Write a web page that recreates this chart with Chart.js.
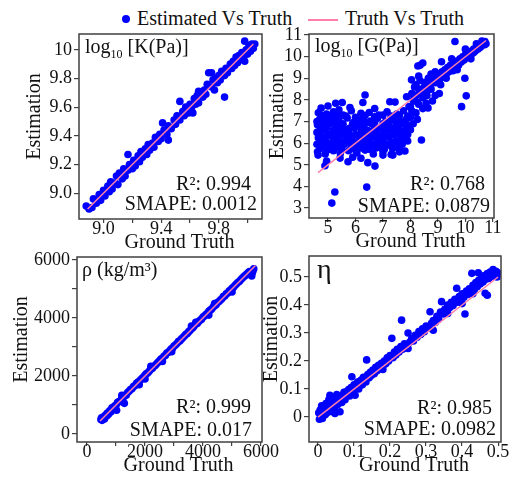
<!DOCTYPE html>
<html>
<head>
<meta charset="utf-8">
<script src="https://cdn.jsdelivr.net/npm/chart.js@4.4.1/dist/chart.umd.min.js"></script>
<style>
  html, body { margin: 0; padding: 0; background: #fff; overflow: hidden; }
  body { width: 511px; height: 479px; position: relative; font-family: 'Liberation Serif', serif; }
  .panel { position: absolute; }
  .lbl { position: absolute; top: 8px; font-size: 20px; line-height: 20px; color: #111; white-space: nowrap; }
  .dot { position: absolute; left: 122px; top: 15px; width: 8px; height: 8px; border-radius: 50%; background: #0000ff; }
  .seg { position: absolute; left: 308px; top: 19px; width: 30px; height: 1.5px; background: #ff7fa8; }
</style>
</head>
<body>
<div class="dot"></div>
<span class="lbl" style="left:137px">Estimated Vs Truth</span>
<div class="seg"></div>
<span class="lbl" style="left:345px">Truth Vs Truth</span>

<div class="panel" style="left:23px;top:20px;width:251px;height:234px"><canvas id="kChart"></canvas></div>
<div class="panel" style="left:266px;top:20px;width:240px;height:233px"><canvas id="gChart"></canvas></div>
<div class="panel" style="left:10px;top:243px;width:280px;height:234px"><canvas id="rhoChart"></canvas></div>
<div class="panel" style="left:260px;top:242px;width:253px;height:235px"><canvas id="etaChart"></canvas></div>

<script>
// [ground truth, estimation]
const kPoints = [[8.88,8.91],[8.90,8.89],[8.92,8.90],[8.93,8.96],[8.95,8.93],[8.97,8.99],[8.98,8.95],[9.00,9.02],[9.01,8.98],[9.03,9.05],
  [9.04,9.01],[9.05,9.08],[9.06,9.03],[9.08,9.07],[9.09,9.12],[9.10,9.06],[9.11,9.14],[9.13,9.10],[9.14,9.17],[9.15,9.12],
  [9.17,9.27],[9.17,9.16],[9.18,9.20],[9.20,9.17],[9.21,9.23],[9.22,9.19],[9.24,9.26],[9.25,9.22],[9.26,9.29],[9.27,9.25],
  [9.29,9.31],[9.30,9.27],[9.31,9.34],[9.32,9.30],[9.34,9.35],[9.35,9.32],[9.36,9.39],[9.38,9.36],[9.39,9.41],[9.40,9.38],
  [9.41,9.49],[9.42,9.44],[9.44,9.41],[9.45,9.47],[9.45,9.37],[9.47,9.45],[9.49,9.51],[9.50,9.48],[9.51,9.54],[9.53,9.64],
  [9.53,9.51],[9.55,9.57],[9.56,9.54],[9.57,9.60],[9.59,9.56],[9.60,9.62],[9.61,9.59],[9.63,9.66],[9.64,9.62],[9.65,9.68],
  [9.66,9.63],[9.68,9.69],[9.69,9.67],[9.70,9.72],[9.71,9.69],[9.72,9.76],[9.73,9.84],[9.75,9.84],[9.75,9.74],[9.76,9.79],
  [9.77,9.72],[9.78,9.80],[9.79,9.77],[9.80,9.82],[9.81,9.79],[9.82,9.85],[9.84,9.67],[9.84,9.82],[9.85,9.87],[9.86,9.84],
  [9.88,9.90],[9.89,9.87],[9.90,9.92],[9.91,9.89],[9.92,9.95],[9.93,9.91],[9.94,9.96],[9.95,9.93],[9.96,9.98],[9.97,9.94],
  [9.98,10.06],[9.98,9.92],[9.99,10.00],[10.00,9.97],[10.01,10.03],[10.02,9.99],[10.03,10.04],[10.04,10.01],[10.05,10.04],
  [9.66,9.71],[9.62,9.56]];

const gPoints = [
  [4.65,7.41],[4.95,7.35],[5.2,7.45],[5.55,7.3],[5.85,7.5],[6.2,7.38],[6.5,7.42],[6.85,7.3],[7.15,7.45],[7.5,7.35],[7.75,7.5],
  [4.8,7.27],[5.05,7.22],[5.35,7.3],[5.65,7.25],[6.0,7.2],[6.35,7.28],[6.7,7.22],[7.0,7.3],[7.3,7.25],[7.6,7.28],[7.85,7.1],
  [4.7,7.1],[4.9,7.0],[5.15,7.15],[5.4,7.05],[5.7,7.17],[5.95,6.98],[6.25,7.12],[6.55,7.02],[6.8,7.15],[7.1,7.0],[7.35,7.2],[7.6,7.05],[7.9,7.25],
  [4.6,7.0],[4.82,6.92],[5.25,6.95],[5.5,6.9],[5.9,6.92],[6.15,7.0],[6.4,6.95],[6.7,6.98],[7.0,6.9],[7.25,7.02],[7.5,6.95],[7.8,7.0],
  [4.62,6.85],[4.85,6.75],[5.05,6.9],[5.3,6.72],[5.55,6.88],[5.8,6.7],[6.05,6.85],[6.3,6.75],[6.6,6.9],[6.9,6.7],[7.2,6.85],[7.45,6.72],[7.7,6.9],[7.95,6.8],
  [4.72,6.65],[4.95,6.7],[5.2,6.62],[5.45,6.68],[5.65,6.62],[5.95,6.7],[6.2,6.65],[6.45,6.6],[6.7,6.68],[7.1,6.62],[7.35,6.7],[7.6,6.62],[7.85,6.68],
  [4.6,6.5],[4.8,6.6],[5.0,6.42],[5.25,6.58],[5.5,6.45],[5.75,6.55],[6.0,6.4],[6.25,6.6],[6.5,6.45],[6.75,6.55],[7.0,6.4],[7.3,6.6],[7.55,6.45],[7.8,6.55],[8.0,6.62],
  [4.7,6.35],[4.92,6.3],[5.12,6.38],[5.35,6.32],[5.6,6.38],[5.85,6.32],[6.1,6.35],[6.35,6.38],[6.6,6.32],[6.85,6.38],[7.15,6.32],[7.4,6.38],[7.65,6.32],[7.9,6.4],
  [4.65,6.25],[4.9,6.12],[5.15,6.3],[5.4,6.15],[5.65,6.28],[5.9,6.1],[6.15,6.25],[6.4,6.12],[6.7,6.3],[6.95,6.15],[7.2,6.28],[7.5,6.1],[7.75,6.25],
  [4.75,6.05],[5.0,6.0],[5.25,6.08],[5.5,6.02],[5.78,6.05],[6.0,6.02],[6.25,6.08],[6.55,6.02],[6.8,6.05],[7.05,6.0],[7.35,6.05],[7.62,6.02],[7.9,6.1],
  [4.6,5.95],[4.85,5.82],[5.1,5.98],[5.35,5.85],[5.6,5.95],[5.85,5.8],[6.1,5.97],[6.35,5.85],[6.6,5.95],[6.9,5.8],[7.2,5.92],[7.45,5.85],[7.7,5.95],
  [4.72,5.75],[5.0,5.7],[5.25,5.78],[5.5,5.72],[5.95,5.73],[6.2,5.78],[6.5,5.72],[6.75,5.78],[7.05,5.72],[7.35,5.75],[7.6,5.72],
  [4.62,5.6],[4.9,5.5],[5.2,5.65],[5.45,5.52],[5.75,5.65],[6.05,5.55],[6.35,5.68],[6.65,5.5],[7.0,5.62],[7.3,5.48],[7.6,5.6],[7.8,5.64],
  [4.64,5.45],[4.95,5.17],[5.44,5.31],[5.73,5.14],[6.45,5.10],[6.71,4.94],[7.0,5.45],[7.36,5.45],[4.89,4.96],[5.9,5.35],[6.2,5.3],
  [5.14,3.23],[5.25,3.74],[6.41,3.97],
  [6.35,8.23],[6.27,7.88],[5.52,7.88],[5.28,7.85],[5.0,7.72],[5.4,7.55],[7.25,7.92],[7.44,7.9],[5.8,7.65],[6.7,7.6],[4.75,7.62],
  [7.86,8.15],[8.13,7.95],[8.05,7.5],[7.95,7.7],[8.0,7.2],[8.2,7.4],[8.3,7.8],[8.4,6.15],[8.1,6.9],[8.25,7.1],[8.45,7.6],
  [8.57,7.84],[8.64,7.63],[8.8,7.95],[8.9,8.2],[9.05,8.3],[9.86,7.69],[10.03,8.19],[9.98,9.0],[9.62,10.7],[8.27,9.57],
  [8.45,9.71],[8.35,9.6],[8.04,8.93],[8.71,8.93],[9.13,9.77],[8.2,8.7],[8.3,9.1],
  [8.0,7.7],[8.05,8.3],[8.1,8.0],[8.15,8.6],[8.2,8.2],[8.25,7.9],[8.3,8.5],[8.35,8.9],[8.4,8.3],[8.45,8.1],[8.5,8.6],
  [8.55,8.8],[8.6,8.4],[8.65,9.0],[8.7,8.7],[8.75,8.5],[8.8,8.9],[8.85,9.1],[8.9,8.8],[8.95,9.0],[9.0,9.2],[9.05,8.9],
  [9.1,9.1],[9.15,9.3],[9.2,9.1],[9.25,9.4],[9.3,9.2],[9.35,9.5],[9.4,9.3],[9.45,9.6],[9.5,9.5],[9.55,9.35],[9.6,9.7],
  [9.65,9.6],[9.7,9.8],[9.75,9.6],[9.8,9.9],[9.85,9.75],[9.9,10.0],[9.95,9.85],[10.0,10.1],[10.05,9.95],[10.1,10.15],
  [10.15,10.05],[10.2,10.25],[10.25,10.15],[10.3,10.35],[10.35,10.25],[10.4,10.45],[10.45,10.35],[10.5,10.55],[10.55,10.45],
  [10.6,10.6],[10.65,10.55],[10.7,10.65],[10.75,10.6],[10.7,10.55],[9.3,9.0],[9.5,9.9],[9.7,9.4],[10.0,10.35],[10.2,9.9],
  [10.4,10.6],[9.1,8.7],[8.9,9.3],[8.6,8.2],[8.75,9.2],[10.71,10.7],[10.6,10.72],[10.5,10.4],[10.3,10.2]];

const rhoPoints = [[480,500],[500,560],[520,470],[550,540],[580,600],[600,520],[640,650],[680,620],[700,720],[740,680],
  [780,800],[820,760],[860,900],[900,850],[950,960],[1000,990],[1020,820],[1050,1080],[1100,1120],[1150,1130],
  [1200,1240],[1287,1057],[1250,1260],[1300,1330],[1350,1340],[1400,1430],[1450,1470],[1500,1530],[1550,1560],[1600,1640],
  [1650,1660],[1700,1740],[1750,1780],[1800,1820],[1850,1870],[1900,1920],[1950,1960],[2000,1900],[2000,2030],[2050,2080],
  [2100,2110],[2150,2170],[2200,2230],[2250,2260],[2300,2330],[2350,2360],[2400,2420],[2450,2470],[2500,2520],[2550,2580],
  [2600,2610],[2650,2680],[2700,2710],[2750,2790],[2800,2810],[2850,2870],[2920,2840],[2900,2930],[2950,2960],[3000,3030],
  [3050,3070],[3100,3120],[3150,3190],[3200,3210],[3250,3270],[3300,3320],[3350,3370],[3400,3430],[3450,3460],[3500,3520],
  [3550,3570],[3600,3630],[3650,3660],[3700,3730],[3750,3850],[3800,3810],[3850,3880],[3900,3920],[3950,3960],[4000,4030],
  [4050,4070],[4100,4120],[4150,4160],[4200,4230],[4250,4270],[4300,4310],[4350,4380],[4400,4420],[4450,4460],[4500,4530],
  [4550,4570],[4600,4620],[4650,4660],[4700,4740],[4750,4760],[4800,4830],[4850,4860],[4900,4930],[4950,4960],[5000,5020],
  [5050,5060],[5100,5120],[5150,5170],[5200,5220],[5250,5260],[5300,5320],[5350,5370],[5400,5420],[5450,5460],[5500,5510],
  [5550,5560],[5600,5600],[5650,5500],[5700,5560],[5720,5620],[5680,5450],[5750,5700],
  [1200,1330],[2200,2330],[3600,3720],[4400,4500],[1800,1700],[2600,2500],[4200,4100],[5000,4900]];

const etaPoints = [[0.002,0.015],[0.004,-0.008],[0.006,0.025],[0.008,0.003],[0.010,0.040],[0.012,-0.005],[0.015,0.020],
  [0.018,0.030],[0.020,0.008],[0.022,0.048],[0.025,0.015],[0.028,0.035],[0.030,0.062],[0.033,0.078],[0.035,0.020],
  [0.038,0.045],[0.042,0.058],[0.045,0.030],[0.047,0.013],[0.050,0.068],[0.052,0.080],[0.055,0.045],[0.058,0.060],
  [0.061,0.019],[0.063,0.072],[0.066,0.052],[0.070,0.078],[0.072,0.088],[0.075,0.062],[0.078,0.090],[0.082,0.080],
  [0.085,0.098],[0.088,0.075],[0.092,0.105],[0.094,0.144],[0.097,0.095],[0.100,0.115],[0.103,0.078],[0.106,0.108],
  [0.110,0.125],[0.113,0.100],[0.116,0.128],[0.120,0.132],[0.123,0.115],[0.126,0.142],[0.130,0.135],[0.133,0.125],
  [0.135,0.204],[0.138,0.152],[0.142,0.140],[0.145,0.160],[0.148,0.148],[0.152,0.168],[0.156,0.155],[0.160,0.178],
  [0.164,0.165],[0.168,0.185],[0.172,0.172],[0.176,0.192],[0.180,0.182],[0.184,0.200],[0.188,0.190],[0.192,0.212],
  [0.196,0.200],[0.200,0.220],[0.205,0.281],[0.208,0.212],[0.212,0.232],[0.216,0.222],[0.220,0.242],[0.225,0.232],
  [0.230,0.252],[0.232,0.346],[0.235,0.242],[0.240,0.262],[0.245,0.252],[0.250,0.300],[0.255,0.268],[0.260,0.280],
  [0.265,0.272],[0.270,0.292],[0.275,0.285],[0.280,0.305],[0.285,0.295],[0.290,0.315],[0.295,0.305],[0.300,0.325],
  [0.305,0.318],[0.311,0.376],[0.315,0.335],[0.320,0.345],[0.325,0.338],[0.330,0.360],[0.335,0.350],[0.340,0.375],
  [0.343,0.412],[0.348,0.368],[0.352,0.385],[0.356,0.375],[0.360,0.400],[0.365,0.390],[0.370,0.410],[0.375,0.398],
  [0.380,0.420],[0.385,0.460],[0.388,0.410],[0.392,0.430],[0.396,0.418],[0.400,0.440],[0.405,0.428],[0.408,0.368],
  [0.412,0.450],[0.416,0.438],[0.420,0.458],[0.424,0.445],[0.427,0.513],[0.430,0.470],[0.434,0.455],[0.438,0.480],
  [0.442,0.465],[0.446,0.488],[0.450,0.475],[0.454,0.498],[0.458,0.482],[0.462,0.505],[0.464,0.442],[0.466,0.492],
  [0.470,0.435],[0.470,0.512],[0.474,0.495],[0.478,0.518],[0.482,0.502],[0.486,0.527],[0.490,0.508],[0.494,0.520],
  [0.497,0.500],[0.499,0.515],[0.445,0.515],[0.430,0.440],[0.320,0.310],[0.250,0.245],[0.180,0.170],[0.360,0.370],
  [0.400,0.405]];

// identity line ends (Truth Vs Truth)
const kSpan = [8.89, 10.04];
const gSpan = [4.64, 10.75];
const rhoSpan = [450, 5800];
const etaSpan = [0, 0.5];

const r2Values = ['0.994', '0.768', '0.999', '0.985'];
const smapeValues = ['0.0012', '0.0879', '0.017', '0.0982'];

// ticks
const kTicks = [9.0, 9.2, 9.4, 9.6, 9.8, 10.0];
const kLabelsX = ['9.0', '', '9.4', '', '9.8', ''];
const kLabelsY = ['9.0', '9.2', '9.4', '9.6', '9.8', '10'];
const gTicksX = [5, 6, 7, 8, 9, 10, 11];
const gTicksY = [3, 4, 5, 6, 7, 8, 9, 10, 11];
const rhoTicks = [0, 1000, 2000, 3000, 4000, 5000, 6000];
const rhoLabels = ['0', '', '2000', '', '4000', '', '6000'];
const etaTicks = [0, 0.1, 0.2, 0.3, 0.4, 0.5];
const etaLabels = ['0', '0.1', '0.2', '0.3', '0.4', '0.5'];

const SERIF = "'Liberation Serif', 'Times New Roman', serif";
const BLUE = '#0000ff';
const PINK = '#ff7fa8';
const INK = '#111111';
const FRAME = '#404040';

// frame box, axis titles and in-plot texts, one plugin instance per panel
function panelDecor(deco) {
  return {
    id: 'panelDecor',
    afterDatasetsDraw(chart) {
      const { ctx, chartArea: a } = chart;
      ctx.save();
      ctx.strokeStyle = FRAME;
      ctx.lineWidth = 1.5;
      ctx.strokeRect(a.left, a.top, a.right - a.left, a.bottom - a.top);

      ctx.fillStyle = INK;
      ctx.textBaseline = 'alphabetic';
      ctx.textAlign = 'left';
      let x = a.left + deco.nameAt[0];
      const y = a.top + deco.nameAt[1];
      deco.name.forEach(part => {
        ctx.font = part.size + 'px ' + SERIF;
        ctx.fillText(part.text, x, y + (part.shift || 0));
        x += ctx.measureText(part.text).width;
      });

      ctx.textAlign = 'right';
      ctx.font = '20px ' + SERIF;
      ctx.fillText('R\u00b2: ' + deco.r2, a.right - deco.r2At[0], a.bottom - deco.r2At[1]);
      ctx.fillText('SMAPE: ' + deco.smape, a.right - deco.smAt[0], a.bottom - deco.smAt[1]);

      // axis titles (sit a little off-centre in the original)
      ctx.textAlign = 'center';
      ctx.textBaseline = 'middle';
      ctx.fillText('Ground Truth', (a.left + a.right) / 2 + 9, a.bottom + 24);
      ctx.translate(a.left - deco.yTitleGap, (a.top + a.bottom) / 2 - 10);
      ctx.rotate(-Math.PI / 2);
      ctx.fillText('Estimation', 0, 0);
      ctx.restore();
    }
  };
}

function axis(range, ticks, labels, isX, size) {
  return {
    type: 'linear',
    min: range[0],
    max: range[1],
    afterBuildTicks: s => { s.ticks = ticks.map(v => ({ value: v })); },
    afterFit: s => { if (isX) s.height = size; else s.width = size; },
    ticks: {
      autoSkip: false,
      maxRotation: 0,
      padding: isX ? -5 : 2,
      color: INK,
      font: { family: SERIF, size: 18 },
      callback: (v, i) => labels[i]
    },
    grid: { drawOnChartArea: false, tickLength: isX ? 4 : 5, color: FRAME, lineWidth: 1.2 },
    border: { display: false }
  };
}

function makePanel(id, points, span, xAxis, yAxis, padRight, deco) {
  new Chart(document.getElementById(id), {
    type: 'scatter',
    data: {
      datasets: [
        {
          label: 'Truth Vs Truth',
          type: 'line',
          data: [{ x: span[0], y: span[0] }, { x: span[1], y: span[1] }],
          borderColor: PINK,
          borderWidth: 1.5,
          pointRadius: 0,
          order: 0
        },
        {
          label: 'Estimated Vs Truth',
          data: points.map(p => ({ x: p[0], y: p[1] })),
          backgroundColor: BLUE,
          borderWidth: 0,
          pointRadius: 3.8,
          order: 1
        }
      ]
    },
    options: {
      responsive: true,
      maintainAspectRatio: false,
      animation: false,
      layout: { padding: { top: 14, right: padRight, left: 0, bottom: 0 } },
      plugins: {
        legend: { display: false },
        tooltip: { enabled: false }
      },
      scales: { x: xAxis, y: yAxis }
    },
    plugins: [panelDecor(deco)]
  });
}

makePanel('kChart', kPoints, kSpan,
  axis([8.83, 10.1], kTicks, kLabelsX, true, 35),
  axis([8.82, 10.11], kTicks, kLabelsY, false, 56), 12,
  { name: [{ text: 'log', size: 20 }, { text: '10', size: 12, shift: 5 }, { text: ' [K(Pa)]', size: 20 }],
    nameAt: [6, 19], r2: r2Values[0], smape: smapeValues[0], r2At: [11, 29], smAt: [5, 9], yTitleGap: 44 });

makePanel('gChart', gPoints, gSpan,
  axis([4.31, 11.04], gTicksX, gTicksX.map(String), true, 35),
  axis([2.54, 11.05], gTicksY, gTicksY.map(String), false, 43), 12,
  { name: [{ text: 'log', size: 20 }, { text: '10', size: 12, shift: 5 }, { text: ' [G(Pa)]', size: 20 }],
    nameAt: [6, 18], r2: r2Values[1], smape: smapeValues[1], r2At: [9, 28], smAt: [4, 6], yTitleGap: 31 });

makePanel('rhoChart', rhoPoints, rhoSpan,
  axis([-345, 6034], rhoTicks, rhoLabels, true, 35),
  axis([-276, 6103], rhoTicks, rhoLabels, false, 67), 28,
  { name: [{ text: '\u03c1 (kg/m\u00b3)', size: 20 }],
    nameAt: [5, 19], r2: r2Values[2], smape: smapeValues[2], r2At: [11, 29], smAt: [10, 6], yTitleGap: 55 });

makePanel('etaChart', etaPoints, etaSpan,
  axis([-0.025, 0.508], etaTicks, etaLabels, true, 35),
  axis([-0.089, 0.575], etaTicks, etaLabels, false, 49), 12,
  { name: [{ text: '\u03b7', size: 28 }],
    nameAt: [8, 22], r2: r2Values[3], smape: smapeValues[3], r2At: [9, 28], smAt: [5, 7], yTitleGap: 37 });
</script>
</body>
</html>
